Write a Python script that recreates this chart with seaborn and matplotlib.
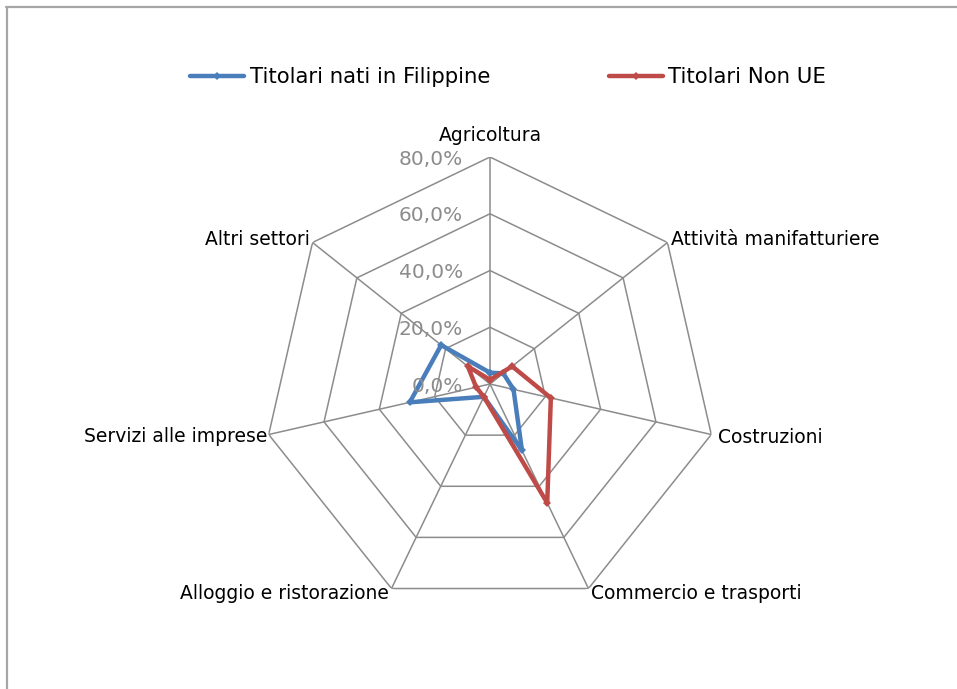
import numpy as np
import pandas as pd
import matplotlib
matplotlib.use("Agg")
import matplotlib.pyplot as plt
from matplotlib.lines import Line2D
import seaborn as sns

# Data (% of enterprises by sector)
settori = ["Agricoltura", "Attività manifatturiere", "Costruzioni",
           "Commercio e trasporti", "Alloggio e ristorazione",
           "Servizi alle imprese", "Altri settori"]
filippine = [4.0, 6.0, 8.5, 26.0, 5.0, 29.0, 22.0]
non_ue = [1.5, 10.0, 22.0, 46.5, 5.0, 5.0, 10.0]
serie = ["Titolari nati in Filippine", "Titolari Non UE"]
tick_vals = [0, 20, 40, 60, 80]

colori = {"Titolari nati in Filippine": "#4A7EBB", "Titolari Non UE": "#BE4B48"}
grid_col = "#8C8C8C"

n = len(settori)
angoli = np.arange(n) * 2 * np.pi / n
chiuso = np.append(angoli, 2 * np.pi)

# long table, first sector repeated at the end so the outline closes
rows = []
for nome, vals in zip(serie, [filippine, non_ue]):
    for a, v in zip(chiuso, list(vals) + [vals[0]]):
        rows.append({"theta": a, "valore": v, "serie": nome})
df = pd.DataFrame(rows)

sns.set_style("white")
plt.rcParams["font.family"] = ["DejaVu Sans"]
plt.rcParams["text.color"] = "black"

fig = plt.figure(figsize=(9.57, 6.89), dpi=100)
ax = fig.add_axes([0.2748, 0.1132, 0.4744, 0.6589], projection="polar")
ax.set_theta_offset(np.pi / 2)
ax.set_theta_direction(-1)
ax.set_ylim(0, 80)
ax.grid(False)
ax.spines["polar"].set_visible(False)
ax.set_xticks([])
ax.set_yticks([])
ax.patch.set_alpha(0)

# heptagon grid
for r in tick_vals[1:]:
    ax.plot(chiuso, [r] * (n + 1), color=grid_col, lw=1.1, zorder=1)
for a in angoli:
    ax.plot([a, a], [0, tick_vals[-1]], color=grid_col, lw=1.1, zorder=1)

sns.lineplot(data=df, x="theta", y="valore", hue="serie", palette=colori,
             sort=False, estimator=None, marker="D", markersize=4.5,
             markeredgewidth=0, linewidth=3.2, ax=ax, zorder=3)
handles, labels = ax.get_legend_handles_labels()
ax.get_legend().remove()
ax.set_xlabel("")
ax.set_ylabel("")

# radial tick labels
for r in tick_vals:
    ax.annotate(f"{r:.1f}%".replace(".", ","), xy=(0, r), xytext=(-27, -2),
                textcoords="offset pixels", ha="right", va="center",
                fontsize=14.5, color="#8C8C8C")

# sector labels
pos_label = [("center", (0, 22)), ("left", (4, 3)), ("left", (7, -3)),
             ("left", (3, -5)), ("right", (-3, -5)), ("right", (-1, -2)),
             ("right", (-3, 3))]
for a, testo, (ha, off) in zip(angoli, settori, pos_label):
    ax.annotate(testo, xy=(a, tick_vals[-1]), xytext=off, textcoords="offset pixels",
                ha=ha, va="center", fontsize=13.5, color="black", annotation_clip=False)

leg = fig.legend(handles, labels, loc="center", bbox_to_anchor=(0.531, 0.888), ncol=2,
                 frameon=False, fontsize=15.3, handlelength=2.55, handletextpad=0.25,
                 columnspacing=5.6)
for t in leg.get_texts():
    t.set_color("black")

# partial chart frame (top and left edges)
fig.add_artist(Line2D([6 / 957, 1], [1 - 7 / 689, 1 - 7 / 689], transform=fig.transFigure,
                      color="#A6A6A6", lw=1.6))
fig.add_artist(Line2D([7 / 957, 7 / 957], [0, 1 - 7 / 689], transform=fig.transFigure,
                      color="#A6A6A6", lw=1.6))

fig.savefig("out.png", dpi=100)
